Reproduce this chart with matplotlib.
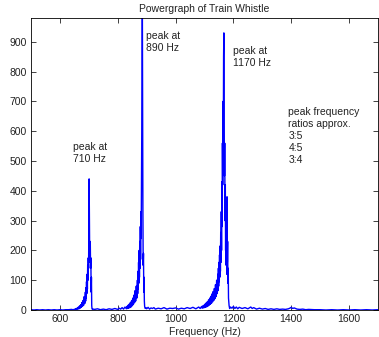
import matplotlib
matplotlib.use("Agg")
import matplotlib.pyplot as plt

# (frequency Hz, power) samples
spectrum = [
    (500, 1), (510, 0), (520, 1), (530, 0), (540, 1), (550, 0), (560, 1), (570, 0), (580, 1), (590, 0),
    (600, 1), (610, 0), (620, 1), (630, 1), (640, 2), (645, 1), (650, 2),
    (652, 3), (654, 1), (656, 5), (658, 2), (660, 7), (662, 3), (664, 10), (666, 4), (668, 14), (670, 6),
    (672, 18), (674, 9), (676, 25), (678, 12), (680, 32), (682, 16), (684, 45), (686, 22), (688, 60),
    (689, 30), (690, 75), (691, 40), (692, 95), (693, 55), (694, 120), (695, 70), (696, 150), (697, 100),
    (698, 175), (699, 140), (700, 260), (701, 440), (702, 320), (703, 180), (704, 160), (705, 230),
    (706, 140), (707, 175), (708, 60), (709, 110), (710, 15), (711, 4), (713, 2), (715, 3),
    (720, 2), (730, 4), (740, 1), (750, 3), (760, 1), (770, 4), (780, 2), (790, 5), (800, 2), (805, 6),
    (810, 3), (815, 8), (820, 3), (825, 10), (830, 4),
    (832, 12), (834, 5), (836, 16), (838, 6), (840, 20), (842, 8), (844, 26), (846, 10), (848, 32),
    (850, 14), (852, 40), (854, 18), (856, 50), (858, 24), (860, 65), (862, 30), (864, 80), (866, 40),
    (868, 100), (869, 55), (870, 130), (871, 70), (872, 160), (873, 90), (874, 200), (875, 110),
    (876, 230), (877, 140), (878, 280), (879, 170), (880, 330), (881, 240), (882, 420), (883, 560),
    (884, 760), (885, 1050), (886, 700), (887, 330), (888, 150), (889, 190), (890, 60), (891, 110),
    (892, 30), (893, 12), (895, 5), (898, 8),
    (900, 4), (905, 9), (910, 3), (915, 7), (920, 5), (925, 8), (930, 3), (940, 6), (950, 4), (960, 8),
    (970, 3), (980, 6), (990, 5), (1000, 7), (1010, 3), (1020, 6), (1030, 4), (1040, 8), (1050, 5),
    (1060, 9), (1070, 4), (1080, 10), (1085, 5), (1090, 12),
    (1092, 6), (1094, 14), (1096, 7), (1098, 16), (1100, 8), (1102, 20), (1104, 9), (1106, 24),
    (1108, 11), (1110, 28), (1112, 13), (1114, 34), (1116, 16), (1118, 40), (1120, 19), (1122, 46),
    (1124, 22), (1126, 54), (1128, 27), (1130, 62), (1132, 32), (1134, 72), (1136, 38), (1138, 85),
    (1140, 45), (1142, 100), (1144, 55), (1146, 120), (1147, 65), (1148, 140), (1149, 80), (1150, 160),
    (1151, 95), (1152, 185), (1153, 110), (1154, 215), (1155, 130), (1156, 260), (1157, 160),
    (1158, 330), (1159, 200), (1160, 430), (1161, 280), (1162, 560), (1163, 420), (1164, 700),
    (1165, 520), (1166, 850), (1167, 930), (1168, 620), (1169, 450), (1170, 560), (1171, 300),
    (1172, 420), (1173, 200), (1174, 340), (1175, 150), (1176, 280), (1177, 120), (1178, 380),
    (1179, 160), (1180, 230), (1181, 90), (1182, 140), (1183, 40), (1185, 15), (1187, 5), (1190, 10),
    (1195, 6), (1200, 12), (1205, 5), (1210, 10), (1215, 4), (1220, 9), (1230, 5), (1240, 8), (1250, 4),
    (1260, 10), (1265, 5), (1270, 8), (1280, 3), (1290, 6), (1300, 3), (1310, 5), (1320, 2), (1330, 4),
    (1340, 2), (1350, 4), (1360, 2), (1370, 3), (1380, 2), (1390, 4), (1395, 6), (1400, 9), (1405, 5),
    (1410, 7), (1420, 3), (1430, 2), (1440, 3), (1450, 1), (1460, 2), (1480, 1), (1500, 1), (1520, 0),
    (1540, 1), (1560, 0), (1580, 1), (1600, 0), (1620, 1), (1640, 0), (1660, 1), (1680, 0), (1700, 1),
]
freq = [f for f, p in spectrum]
power = [p for f, p in spectrum]

x_ticks = [600, 800, 1000, 1200, 1400, 1600]
y_ticks = [0, 100, 200, 300, 400, 500, 600, 700, 800, 900]

annotations = [
    (646, 563, "peak at\n710 Hz"),
    (896, 938, "peak at\n890 Hz"),
    (1198, 886, "peak at\n1170 Hz"),
    (1390, 680, "peak frequency\nratios approx.\n3:5\n4:5\n3:4"),
]

plt.rcParams['font.family'] = ['Liberation Sans', 'DejaVu Sans']
fig = plt.figure(figsize=(3.79, 3.37), dpi=100)
ax = fig.add_axes([31/379, 27/337, 347/379, 292/337])
ax.plot(freq, power, color=(0, 0, 1), lw=1.0)
ax.set_xlim(500, 1700)
ax.set_ylim(0, 980)
ax.set_xticks(x_ticks)
ax.set_yticks(y_ticks)
ax.tick_params(direction='in', top=True, right=True, length=3.5, width=0.6,
               labelsize=7.5, pad=3, colors='#222222')
for s in ax.spines.values():
    s.set_linewidth(0.6)
ax.set_xlabel("Frequency (Hz)", fontsize=7.5, labelpad=2, color='#222222')
ax.set_title("Powergraph of Train Whistle", fontsize=7.5, pad=4, color='#222222')
for x, y, t in annotations:
    ax.text(x, y, t, fontsize=7.5, va='top', ha='left', linespacing=1.25, color='#222222')
fig.savefig("out.png", dpi=100)
